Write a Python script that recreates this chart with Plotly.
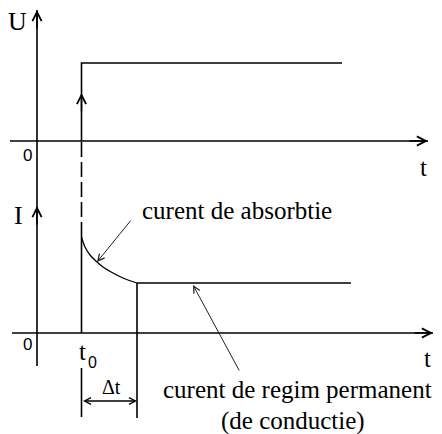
import plotly.graph_objects as go

# ---- schematic data (arbitrary time / amplitude units) ----
t0 = 4.45              # switching instant
dt = 5.55              # duration of absorption current (Δt)
t_end_U = 30.5         # end of drawn U step
t_end_I = 31.4         # end of drawn plateau
U_level = 7.8          # applied voltage level
I_peak = 9.6           # initial current after switching
I_perm = 5.0           # permanent (conduction) current

# absorption current decay curve (t, I)
curve_t = [4.45, 4.8, 5.3, 6.0, 6.6, 7.6, 8.6, 10.0]
curve_I = [9.6, 8.6, 7.8, 7.1, 6.6, 6.0, 5.5, 5.0]

# axes extents
tU_axis = [-2.7, 39.1]
tI_axis = [-2.5, 39.6]
vert_axis_I = [-3.3, 32.3]   # continuous vertical axis, in I units
U_arrow_tip = 13.1
I_arrow_tip = 12.7
U_base_in_I = 19.2           # U-panel zero line, expressed in I units

labels = {
    "U": "U", "I": "I", "zero": "0", "t": "t", "t0": "t", "sub0": "0",
    "dt": "Δt",
    "abs": "curent de absorbtie",
    "perm1": "curent de regim permanent",
    "perm2": "(de conductie)",
}

BLACK = "#000000"
LW = 1.6
SERIF = "Liberation Serif, Times New Roman, serif"
SANS = "Liberation Sans, Arial, sans-serif"

fig = go.Figure()

def line(xs, ys, yaxis="y", width=LW, dash="solid", shape="linear", color=BLACK):
    fig.add_trace(go.Scatter(x=xs, y=ys, yaxis=yaxis, mode="lines",
                             line=dict(color=color, width=width, dash=dash, shape=shape),
                             hoverinfo="skip", showlegend=False))

# --- top panel (U) ---
line(tU_axis, [0, 0], "y")
line([t0, t0, t_end_U], [0, U_level, U_level], "y")

# --- continuous vertical axis ---
line([0, 0], vert_axis_I, "y2")

# --- dashed line from U step down to current peak ---
line([t0, t0], [I_peak, U_base_in_I], "y2", dash="15px,5px")

# --- bottom panel (I) ---
line(tI_axis, [0, 0], "y2")
line([t0, t0], [0, I_peak], "y2")
line(curve_t, curve_I, "y2", width=1.3, shape="spline")
line([t0 + dt, t_end_I], [I_perm, I_perm], "y2")
line([t0 + dt, t0 + dt], [I_perm, -8.5], "y2")
line([t0, t0], [-3.5, -8.4], "y2")

def arrow(x, y, ax, ay, yref="y", width=1.5, size=1.2, head=5, color=BLACK, start=False):
    fig.add_annotation(x=x, y=y, ax=ax, ay=ay, xref="x", yref=yref, axref="x", ayref=yref,
                       showarrow=True, arrowhead=head, arrowsize=size, arrowwidth=width,
                       arrowcolor=color, text="", standoff=0,
                       startarrowhead=head if start else None,
                       arrowside="end+start" if start else "end",
                       startarrowsize=size, startstandoff=0)

# axis arrowheads
arrow(0, U_arrow_tip, 0, U_arrow_tip - 2, "y")
arrow(0, I_arrow_tip, 0, I_arrow_tip - 2, "y2")
arrow(tU_axis[1], 0, tU_axis[1] - 2, 0, "y")
arrow(tI_axis[1], 0, tI_axis[1] - 2, 0, "y2")
# arrow on the voltage step
arrow(t0, 4.8, t0, 2.8, "y")
# Δt double arrow
arrow(t0 + dt, -6.8, t0, -6.8, "y2", width=1.3, size=1.0, start=True)
# pointers to curves
arrow(6.0, 7.1, 9.5, 11.4, "y2", width=1.0, size=1.3, color="#222222")
arrow(15.6, 4.8, 20.3, -3.9, "y2", width=1.0, size=1.3, color="#222222")

def text(x, y, s, yref="y", size=25, family=SERIF, xanchor="center"):
    fig.add_annotation(x=x, y=y, xref="x", yref=yref, text=s, showarrow=False,
                       xanchor=xanchor, yanchor="middle",
                       font=dict(family=family, size=size, color=BLACK))

text(-2.0, 12.0, labels["U"], "y", size=26)
text(-1.85, 11.75, labels["I"], "y2", size=26)
text(-0.95, -1.4, labels["zero"], "y", size=17, family=SANS)
text(-1.0, -1.1, labels["zero"], "y2", size=17, family=SANS)
text(38.65, -2.6, labels["t"], "y", size=25)
text(39.05, -2.5, labels["t"], "y2", size=25)
text(4.5, -1.8, labels["t0"], "y2", size=25)
text(5.5, -2.95, labels["sub0"], "y2", size=16, family=SANS)
text(7.4, -5.4, labels["dt"], "y2", size=20)
text(10.3, 12.3, labels["abs"], "y2", size=25, xanchor="left")
text(26.0, -5.6, labels["perm1"], "y2", size=25)
text(25.6, -8.8, labels["perm2"], "y2", size=25)

# page body has an 8px margin and is 426px wide: figure fills that visible area
fig.update_layout(
    width=426, height=426, autosize=False,
    margin=dict(l=0, r=0, t=0, b=0),
    paper_bgcolor="white", plot_bgcolor="white",
    xaxis=dict(range=[-2.9, 39.7], visible=False, fixedrange=True),
    yaxis=dict(range=[-29.3, 13.3], visible=False, fixedrange=True),
    yaxis2=dict(range=[-10.1, 32.5], visible=False, overlaying="y", fixedrange=True),
    showlegend=False,
)

fig.write_html("out.html")
